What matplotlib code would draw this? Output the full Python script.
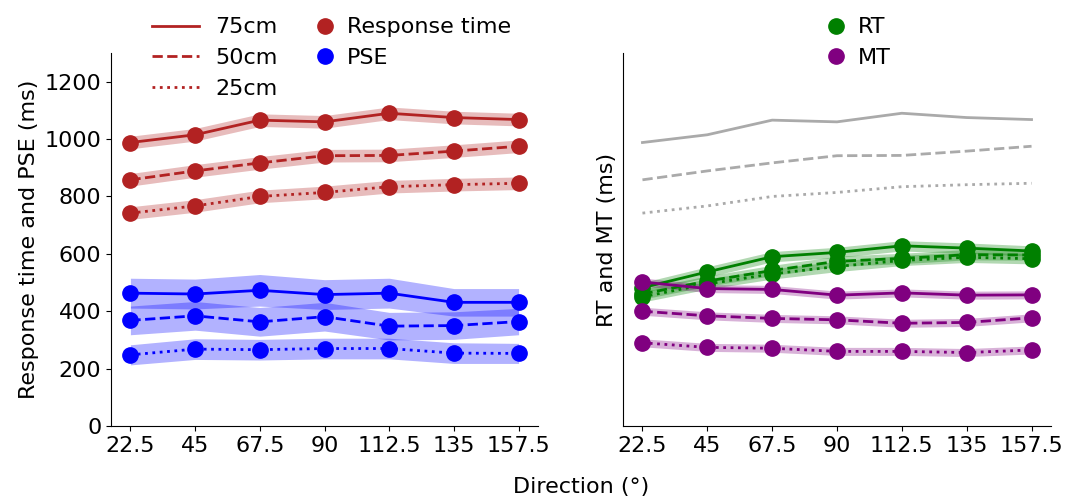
import matplotlib
matplotlib.use("Agg")
import matplotlib.pyplot as plt
from matplotlib.lines import Line2D
import numpy as np

directions = ["22.5", "45", "67.5", "90", "112.5", "135", "157.5"]
distances = ["75cm", "50cm", "25cm"]

# Response time (ms) per distance
resp_75 = [988, 1015, 1066, 1060, 1090, 1075, 1068]
resp_50 = [858, 889, 917, 942, 943, 958, 975]
resp_25 = [742, 767, 800, 814, 834, 841, 846]
resp_err = [22, 22, 22, 22, 22, 22, 22]

# PSE (ms)
pse_75 = [463, 460, 473, 458, 463, 431, 431]
pse_50 = [368, 384, 363, 381, 348, 350, 364]
pse_25 = [248, 268, 266, 270, 270, 254, 253]
pse_err_75 = [52, 52, 55, 52, 52, 48, 48]
pse_err_50 = [50, 50, 50, 50, 48, 48, 46]
pse_err_25 = [35, 36, 36, 36, 36, 36, 35]

# RT (ms)
rt_75 = [482, 537, 590, 605, 628, 620, 610]
rt_50 = [460, 505, 542, 574, 584, 597, 596]
rt_25 = [450, 495, 530, 556, 577, 588, 583]
rt_err = [18, 18, 18, 18, 18, 18, 18]

# MT (ms)
mt_75 = [502, 479, 476, 456, 464, 456, 457]
mt_50 = [400, 384, 375, 370, 358, 361, 377]
mt_25 = [290, 274, 271, 260, 260, 256, 265]
mt_err = [14, 14, 14, 14, 14, 14, 14]

styles = ["-", "--", ":"]
RED = "#b22222"
BLUE = "#0000ff"
GREEN = "#008000"
PURPLE = "#800080"
GRAY = "#aaaaaa"

FS = 16
plt.rcParams["font.family"] = ["DejaVu Sans"]
plt.rcParams["font.size"] = FS

fig = plt.figure(figsize=(10.69, 4.97), dpi=100)
axL = fig.add_axes([111/1069, 71/497, 427/1069, 373/497])
axR = fig.add_axes([623/1069, 71/497, 428/1069, 373/497], sharey=axL)

x = np.arange(len(directions))
LW = 2.0
MS = 11

def series(ax, y, err, color, ls, band_alpha=0.3):
    y = np.asarray(y, float)
    e = np.asarray(err, float)
    ax.fill_between(x, y - e, y + e, color=color, alpha=band_alpha, lw=0)
    ax.plot(x, y, ls=ls, color=color, lw=LW, marker="o", ms=MS)

for y, ls in zip([resp_75, resp_50, resp_25], styles):
    series(axL, y, resp_err, RED, ls)
for y, e, ls in zip([pse_75, pse_50, pse_25], [pse_err_75, pse_err_50, pse_err_25], styles):
    series(axL, y, e, BLUE, ls)

for y, ls in zip([resp_75, resp_50, resp_25], styles):
    axR.plot(x, y, ls=ls, color=GRAY, lw=LW)
for y, ls in zip([rt_75, rt_50, rt_25], styles):
    series(axR, y, rt_err, GREEN, ls)
for y, ls in zip([mt_75, mt_50, mt_25], styles):
    series(axR, y, mt_err, PURPLE, ls)

for ax in (axL, axR):
    ax.spines["top"].set_visible(False)
    ax.spines["right"].set_visible(False)
    ax.set_xticks(x)
    ax.set_xticklabels(directions)
    ax.tick_params(labelsize=FS)

axL.set_ylim(0, 1300)
axL.set_yticks([0, 200, 400, 600, 800, 1000, 1200])
axL.set_ylabel("Response time and PSE (ms)", fontsize=FS)
axR.tick_params(axis="y", left=False, labelleft=False)
axR.set_ylabel("RT and MT (ms)", fontsize=FS)

ytop = 0.992
h_lines = [Line2D([], [], color=RED, ls=ls, lw=LW) for ls in styles]
fig.legend(h_lines, distances, frameon=False, loc="upper left",
           bbox_to_anchor=(139/1069, ytop), fontsize=FS,
           handlelength=2.1, handletextpad=0.72, labelspacing=0.49,
           borderaxespad=0.2)

h_mk = [Line2D([], [], color=RED, ls="none", marker="o", ms=MS),
        Line2D([], [], color=BLUE, ls="none", marker="o", ms=MS)]
fig.legend(h_mk, ["Response time", "PSE"], frameon=False, loc="upper left",
           bbox_to_anchor=(301/1069, ytop), fontsize=FS,
           handlelength=1.0, handletextpad=0.45, labelspacing=0.49,
           borderaxespad=0.2)

h2 = [Line2D([], [], color=GREEN, ls="none", marker="o", ms=MS),
      Line2D([], [], color=PURPLE, ls="none", marker="o", ms=MS)]
fig.legend(h2, ["RT", "MT"], frameon=False, loc="upper left",
           bbox_to_anchor=(812/1069, ytop), fontsize=FS,
           handlelength=1.0, handletextpad=0.45, labelspacing=0.49,
           borderaxespad=0.2)

fig.text(581/1069, 10/497, "Direction (°)", ha="center", va="center", fontsize=FS)

fig.savefig("out.png", dpi=100)
